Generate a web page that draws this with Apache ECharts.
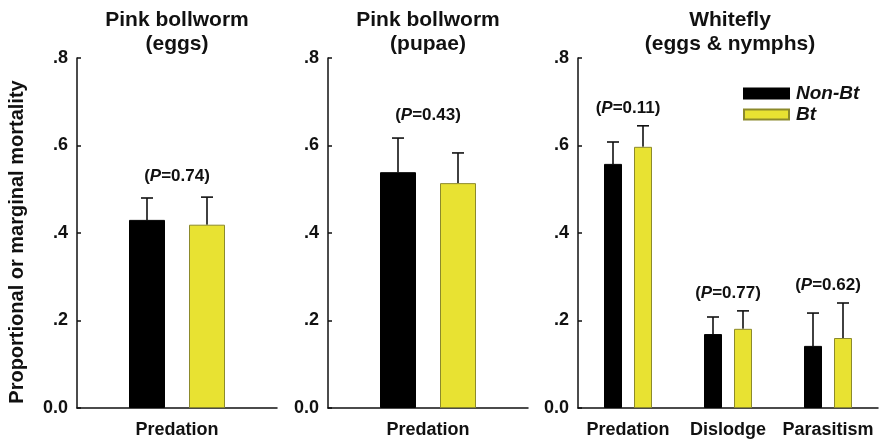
<!DOCTYPE html>
<html>
<head>
<meta charset="utf-8">
<script src="https://cdn.jsdelivr.net/npm/echarts@6/dist/echarts.min.js"></script>
<style>html,body{margin:0;padding:0;background:#fff}#c{width:880px;height:444px}</style>
</head>
<body>
<div id="c"></div>
<script>
// ---- data ----
const seriesNames = ['Non-Bt', 'Bt'];
const panelTitles = ['Pink bollworm\n(eggs)', 'Pink bollworm\n(pupae)', 'Whitefly\n(eggs & nymphs)'];
const cats1 = ['Predation'];
const cats2 = ['Predation'];
const cats3 = ['Predation', 'Dislodge', 'Parasitism'];
const nonBt1 = [0.430];
const bt1 = [0.419];
const nonBt1Up = [0.480];
const bt1Up = [0.482];
const nonBt2 = [0.539];
const bt2 = [0.514];
const nonBt2Up = [0.617];
const bt2Up = [0.583];
const nonBt3 = [0.558, 0.169, 0.142];
const bt3 = [0.597, 0.181, 0.160];
const nonBt3Up = [0.608, 0.208, 0.217];
const bt3Up = [0.645, 0.222, 0.240];
const pText1 = ['0.74'];
const pText2 = ['0.43'];
const pText3 = ['0.11', '0.77', '0.62'];
const pY1 = [0.530];
const pY2 = [0.670];
const pY3 = [0.686, 0.263, 0.281];
const yTickLabels = ['0.0', '.2', '.4', '.6', '.8'];
const yAxisName = 'Proportional or marginal mortality';

// ---- style ----
const FONT = "'Liberation Sans', Arial, Helvetica, sans-serif";
const BLACK = '#000000';
const YELLOW = '#e8e232';
const BW = 0.18, GAP = 0.12;

const chart = echarts.init(document.getElementById('c'), null, {renderer: 'canvas'});

const grids = [
  {left: 77, top: 58, width: 200, height: 350},
  {left: 328, top: 58, width: 200, height: 350},
  {left: 578, top: 58, width: 300, height: 350}
];
const catsAll = [cats1, cats2, cats3];
const nonBtAll = [nonBt1, nonBt2, nonBt3];
const btAll = [bt1, bt2, bt3];
const nonBtUpAll = [nonBt1Up, nonBt2Up, nonBt3Up];
const btUpAll = [bt1Up, bt2Up, bt3Up];
const pTextAll = [pText1, pText2, pText3];
const pYAll = [pY1, pY2, pY3];

const xAxes = catsAll.map((c, i) => ({
  type: 'category', gridIndex: i, data: c,
  axisLine: {lineStyle: {color: '#111', width: 1.5}},
  axisTick: {show: false},
  axisLabel: {color: '#111', fontFamily: FONT, fontWeight: 'bold', fontSize: 18, margin: 13, interval: 0}
}));
const yAxes = catsAll.map((c, i) => ({
  type: 'value', gridIndex: i, min: 0, max: 0.8, interval: 0.2,
  name: i === 0 ? yAxisName : '',
  nameLocation: 'middle', nameGap: 50, nameRotate: 90,
  nameTextStyle: {color: '#111', fontFamily: FONT, fontWeight: 'bold', fontSize: 20, padding: [0, 18, 0, 0]},
  axisLine: {show: true, lineStyle: {color: '#111', width: 1.5}},
  axisTick: {show: true, inside: true, length: 4, lineStyle: {color: '#111', width: 1.5}},
  splitLine: {show: false},
  axisLabel: {color: '#111', fontFamily: FONT, fontWeight: 'bold', fontSize: 18, margin: 9,
    formatter: v => yTickLabels[Math.round(v / 0.2)]}
}));

function errRender(sign) {
  return function (params, api) {
    const cat = api.value(0);
    const up = api.value(1);
    const mean = api.value(2);
    const band = api.size([1, 0])[0];
    const off = sign * band * (BW + GAP) / 2;
    const p1 = api.coord([cat, mean]);
    const p2 = api.coord([cat, up]);
    const x = p1[0] + off;
    const cap = 6;
    const st = {stroke: '#111', lineWidth: 1.6};
    return {type: 'group', children: [
      {type: 'line', shape: {x1: x, y1: p1[1], x2: x, y2: p2[1]}, style: st},
      {type: 'line', shape: {x1: x - cap, y1: p2[1], x2: x + cap, y2: p2[1]}, style: st}
    ]};
  };
}

function pRender(texts) {
  return function (params, api) {
    const p = api.coord([api.value(0), api.value(1)]);
    return {
      type: 'text', x: p[0], y: p[1],
      style: {
        text: '{n|(}{i|P}{n|=' + texts[params.dataIndex] + ')}',
        textAlign: 'center', textVerticalAlign: 'middle', align: 'center', verticalAlign: 'middle',
        rich: {
          n: {fontFamily: FONT, fontWeight: 'bold', fontSize: 17, fill: '#111', color: '#111'},
          i: {fontFamily: FONT, fontWeight: 'bold', fontStyle: 'italic', fontSize: 17, fill: '#111', color: '#111'}
        }
      }
    };
  };
}

const series = [];
catsAll.forEach((c, i) => {
  series.push({
    name: seriesNames[0], type: 'bar', xAxisIndex: i, yAxisIndex: i,
    data: nonBtAll[i], barWidth: (BW * 100) + '%', barGap: (GAP / BW * 100) + '%',
    itemStyle: {color: BLACK, borderColor: '#000', borderWidth: 1}, z: 2
  });
  series.push({
    name: seriesNames[1], type: 'bar', xAxisIndex: i, yAxisIndex: i,
    data: btAll[i], barWidth: (BW * 100) + '%', barGap: (GAP / BW * 100) + '%',
    itemStyle: {color: YELLOW, borderColor: '#8c8a2c', borderWidth: 1}, z: 2
  });
  series.push({
    type: 'custom', xAxisIndex: i, yAxisIndex: i, renderItem: errRender(-1), z: 1,
    data: c.map((_, k) => [k, nonBtUpAll[i][k], nonBtAll[i][k]]), silent: true
  });
  series.push({
    type: 'custom', xAxisIndex: i, yAxisIndex: i, renderItem: errRender(1), z: 1,
    data: c.map((_, k) => [k, btUpAll[i][k], btAll[i][k]]), silent: true
  });
  series.push({
    type: 'custom', xAxisIndex: i, yAxisIndex: i, renderItem: pRender(pTextAll[i]), z: 3,
    data: c.map((_, k) => [k, pYAll[i][k]]), silent: true
  });
});

const titleX = [177, 428, 730];
const graphics = panelTitles.map((t, i) => ({
  type: 'text', x: titleX[i], y: 8,
  style: {text: t, textAlign: 'center', align: 'center', fill: '#111', font: 'bold 21px ' + FONT, lineHeight: 24}
}));

chart.setOption({
  animation: false,
  backgroundColor: '#fff',
  grid: grids,
  xAxis: xAxes,
  yAxis: yAxes,
  legend: {
    data: seriesNames, orient: 'vertical', left: 738, top: 79,
    itemWidth: 45, itemHeight: 10, itemGap: 2,
    icon: 'rect',
    textStyle: {fontFamily: FONT, fontWeight: 'bold', fontStyle: 'italic', fontSize: 19, color: '#111', padding: [0, 0, 0, 2]}
  },
  graphic: graphics,
  series: series
});
</script>
</body>
</html>
